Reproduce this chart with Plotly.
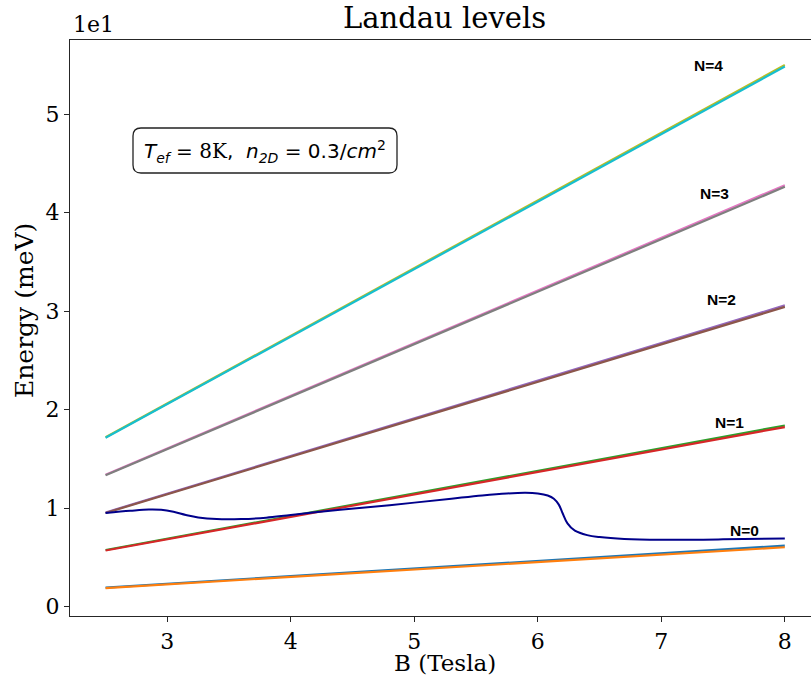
import plotly.graph_objects as go

# Magnetic field samples for the Landau level fan (Tesla)
B_levels = [2.5, 3.0, 4.0, 5.0, 6.0, 7.0, 8.0]

# Spin-split Landau levels, energy in units of 10 meV (upper / lower branch)
E_N0_up = [0.193, 0.232, 0.309, 0.386, 0.464, 0.541, 0.618]
E_N0_dn = [0.188, 0.226, 0.301, 0.376, 0.452, 0.527, 0.602]
E_N1_up = [0.574, 0.689, 0.919, 1.149, 1.379, 1.608, 1.838]
E_N1_dn = [0.569, 0.683, 0.911, 1.139, 1.367, 1.594, 1.822]
E_N2_up = [0.955, 1.147, 1.529, 1.911, 2.294, 2.676, 3.058]
E_N2_dn = [0.950, 1.141, 1.521, 1.901, 2.282, 2.662, 3.042]
E_N3_up = [1.337, 1.604, 2.139, 2.674, 3.209, 3.743, 4.278]
E_N3_dn = [1.332, 1.598, 2.131, 2.664, 3.197, 3.729, 4.262]
E_N4_up = [1.718, 2.062, 2.749, 3.436, 4.124, 4.811, 5.498]
E_N4_dn = [1.713, 2.056, 2.741, 3.426, 4.112, 4.797, 5.482]

# Fermi energy versus field
B_fermi = [2.5, 2.7, 2.85, 2.95, 3.05, 3.15, 3.25, 3.4, 3.6, 3.8, 4.0, 4.3,
           4.6, 5.0, 5.3, 5.55, 5.75, 5.9, 6.0, 6.08, 6.13, 6.17, 6.2, 6.24,
           6.3, 6.4, 6.5, 6.7, 7.0, 7.5, 8.0]
E_fermi = [0.95, 0.972, 0.985, 0.982, 0.962, 0.93, 0.905, 0.888, 0.888, 0.902,
           0.93, 0.97, 1.005, 1.055, 1.095, 1.128, 1.148, 1.155, 1.148, 1.128,
           1.095, 1.035, 0.95, 0.845, 0.77, 0.725, 0.705, 0.686, 0.678, 0.682,
           0.692]

# Level index labels
label_text = ["N=0", "N=1", "N=2", "N=3", "N=4"]
label_B = [7.67, 7.555, 7.49, 7.43, 7.38]
label_E = [0.77, 1.87, 3.12, 4.19, 5.49]

series = [
    (E_N0_up, "#1f77b4"), (E_N0_dn, "#ff7f0e"),
    (E_N1_up, "#2ca02c"), (E_N1_dn, "#d62728"),
    (E_N2_up, "#9467bd"), (E_N2_dn, "#8c564b"),
    (E_N3_up, "#e377c2"), (E_N3_dn, "#7f7f7f"),
    (E_N4_up, "#bcbd22"), (E_N4_dn, "#17becf"),
]

fig = go.Figure()
for vals, col in series:
    fig.add_trace(go.Scatter(x=B_levels, y=vals, mode="lines",
                             line=dict(color=col, width=2.2),
                             showlegend=False, hoverinfo="skip"))

fig.add_trace(go.Scatter(x=B_fermi, y=E_fermi, mode="lines",
                         line=dict(color="#00008b", width=2, shape="spline",
                                   smoothing=1.0),
                         showlegend=False, hoverinfo="skip"))

serif = "DejaVu Serif"
axis_col = "#262626"

W, H = 811, 682
ml, mr, mt, mb = 70, 0, 40, 66
pw, ph = W - ml - mr, H - mt - mb


def px(xp):
    return (xp - ml) / pw


def py(yp):
    return (H - mb - yp) / ph


annotations = []
for t, bx, ey in zip(label_text, label_B, label_E):
    annotations.append(dict(x=bx, y=ey, xref="x", yref="y", text="<b>" + t + "</b>",
                            showarrow=False, xanchor="center", yanchor="middle",
                            font=dict(family="Liberation Sans Narrow, Liberation Sans, Arial",
                                      size=15.5, color="black")))

# Title, axis labels and offset text
annotations += [
    dict(x=px(444.5), y=1, xref="paper", yref="paper", text="Landau levels",
         showarrow=False, xanchor="center", yanchor="bottom", yshift=3,
         font=dict(family=serif, size=29, color="black")),
    dict(x=px(445), y=py(663), xref="paper", yref="paper", text="B (Tesla)",
         showarrow=False, xanchor="center", yanchor="middle", align="center",
         font=dict(family=serif, size=23, color="black")),
    dict(x=0, y=py(311), xref="paper", yref="paper", text="Energy (meV)",
         showarrow=False, xanchor="center", yanchor="middle", xshift=-46,
         textangle=-90, font=dict(family=serif, size=25, color="black")),
    dict(x=0, y=1, xref="paper", yref="paper", text="1e1",
         showarrow=False, xanchor="left", yanchor="bottom", xshift=1, yshift=1,
         font=dict(family=serif, size=22, color="black")),
    dict(x=px(265), y=py(151), xref="paper", yref="paper",
         text=('<i>T</i><sub><i>ef</i></sub> = '
               '<span style="font-family:DejaVu Serif">8K</span>,&nbsp;&nbsp;'
               '<i>n</i><sub><i>2D</i></sub> = 0.3/<i>cm</i><sup>2</sup>'),
         showarrow=False, xanchor="center", yanchor="middle",
         font=dict(family="DejaVu Sans", size=20, color="black")),
]

# Rounded frame around the parameter text
x0, x1, y0, y1, r = 133, 397, 128, 173, 8
rx, ry = r / pw, r / ph
X0, X1, Y0, Y1 = px(x0), px(x1), py(y1), py(y0)
path = (f"M {X0+rx},{Y0} L {X1-rx},{Y0} Q {X1},{Y0} {X1},{Y0+ry} "
        f"L {X1},{Y1-ry} Q {X1},{Y1} {X1-rx},{Y1} L {X0+rx},{Y1} "
        f"Q {X0},{Y1} {X0},{Y1-ry} L {X0},{Y0+ry} Q {X0},{Y0} {X0+rx},{Y0} Z")

fig.update_layout(
    width=W, height=H,
    margin=dict(l=ml, r=mr, t=mt, b=mb, pad=0),
    paper_bgcolor="white", plot_bgcolor="white",
    showlegend=False,
    annotations=annotations,
    shapes=[dict(type="path", path=path, xref="paper", yref="paper",
                 line=dict(color="#222222", width=1.3), fillcolor="white",
                 layer="below")],
    xaxis=dict(range=[2.212, 8.212], tickvals=[3, 4, 5, 6, 7, 8],
               ticks="outside", ticklen=5, tickwidth=1.2, tickcolor=axis_col,
               showline=True, linecolor=axis_col, linewidth=1.4, mirror=True,
               showgrid=False, zeroline=False,
               tickfont=dict(family=serif, size=22, color="black")),
    yaxis=dict(range=[-0.096, 5.752], tickvals=[0, 1, 2, 3, 4, 5],
               ticks="outside", ticklen=5, tickwidth=1.2, tickcolor=axis_col,
               showline=True, linecolor=axis_col, linewidth=1.4, mirror=False,
               showgrid=False, zeroline=False,
               tickfont=dict(family=serif, size=22, color="black")),
)

fig.write_html("out.html")
